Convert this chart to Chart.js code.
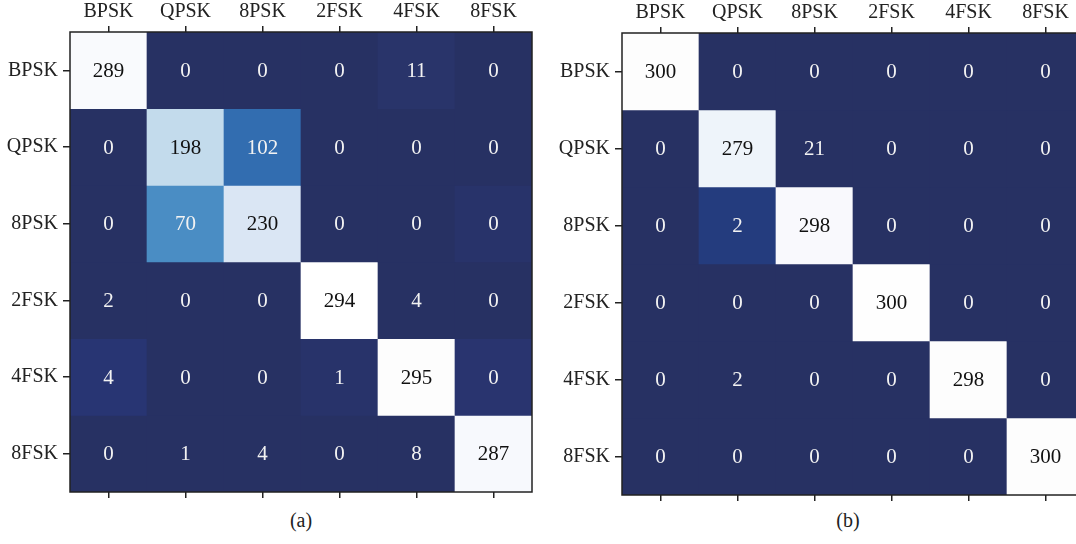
<!DOCTYPE html>
<html>
<head>
<meta charset="utf-8">
<script src="https://cdn.jsdelivr.net/npm/chart.js@4.4.1/dist/chart.umd.min.js"></script>
<style>
  html, body { margin: 0; padding: 0; background: #fff; width: 1076px; height: 544px; overflow: hidden; position: relative; }
  .panel { position: absolute; }
  .caption { position: absolute; font-family: "Liberation Serif", "DejaVu Serif", serif; font-size: 20px; color: #222; transform: translateX(-50%); }
</style>
</head>
<body>
<div class="panel" style="left:0;top:0;width:540px;height:500px;"><canvas id="chartA"></canvas></div>
<div class="panel" style="left:552px;top:1px;width:540px;height:502px;"><canvas id="chartB"></canvas></div>
<div class="caption" style="left:301px;top:509px;">(a)</div>
<div class="caption" style="left:848px;top:509px;">(b)</div>
<script>
// Modulation classes: rows are the true class, columns the predicted class
const classes = ['BPSK', 'QPSK', '8PSK', '2FSK', '4FSK', '8FSK'];

// Confusion counts, panel (a)
const countsA_BPSK = [289, 0, 0, 0, 11, 0];
const countsA_QPSK = [0, 198, 102, 0, 0, 0];
const countsA_8PSK = [0, 70, 230, 0, 0, 0];
const countsA_2FSK = [2, 0, 0, 294, 4, 0];
const countsA_4FSK = [4, 0, 0, 1, 295, 0];
const countsA_8FSK = [0, 1, 4, 0, 8, 287];

// Confusion counts, panel (b)
const countsB_BPSK = [300, 0, 0, 0, 0, 0];
const countsB_QPSK = [0, 279, 21, 0, 0, 0];
const countsB_8PSK = [0, 2, 298, 0, 0, 0];
const countsB_2FSK = [0, 0, 0, 300, 0, 0];
const countsB_4FSK = [0, 2, 0, 0, 298, 0];
const countsB_8FSK = [0, 0, 0, 0, 0, 300];

const matrixA = [countsA_BPSK, countsA_QPSK, countsA_8PSK, countsA_2FSK, countsA_4FSK, countsA_8FSK];
const matrixB = [countsB_BPSK, countsB_QPSK, countsB_8PSK, countsB_2FSK, countsB_4FSK, countsB_8FSK];

// Cell fill colours
const N = '#273163';
const fillA = [
  ['#f9fafd', N, N, N, '#29346a', N],
  [N, '#c3dbec', '#326db0', N, N, N],
  [N, '#4a8dc4', '#dae6f4', N, N, '#28336a'],
  [N, N, N, '#ffffff', N, N],
  ['#283573', N, N, '#28336a', '#fdfdfd', '#29346f'],
  [N, N, N, N, N, '#f7f9fd']
];
const fillB = [
  ['#fdfdfd', N, N, N, N, N],
  [N, '#eef4fa', N, N, N, N],
  [N, '#243c7e', '#f9f9fd', N, N, N],
  [N, N, N, '#fefefe', N, N],
  [N, N, N, N, '#fdfdfd', N],
  [N, N, N, N, N, '#fdfdfd']
];

const FONT = '"Liberation Serif", "DejaVu Serif", serif';
const INK = '#222';

// Writes each count at the centre of its cell
const cellLabels = {
  id: 'cellLabels',
  afterDatasetsDraw(chart) {
    const ctx = chart.ctx;
    const matrix = chart.options.plugins.cellLabels.matrix;
    ctx.save();
    ctx.font = '21px ' + FONT;
    ctx.textAlign = 'center';
    ctx.textBaseline = 'middle';
    chart.data.datasets.forEach((ds, r) => {
      const meta = chart.getDatasetMeta(r);
      meta.data.forEach((bar, c) => {
        const v = matrix[r][c];
        ctx.fillStyle = v > 150 ? '#111' : '#f2f2f2';
        ctx.fillText(String(v), bar.x, (bar.y + bar.base) / 2 + 1);
      });
    });
    ctx.restore();
  }
};

// Frame around the plotting area
const frame = {
  id: 'frame',
  afterDraw(chart) {
    const a = chart.chartArea;
    const ctx = chart.ctx;
    ctx.save();
    ctx.strokeStyle = INK;
    ctx.lineWidth = 1.5;
    ctx.strokeRect(a.left, a.top, a.right - a.left, a.bottom - a.top);
    ctx.restore();
  }
};

function buildChart(id, matrix, fills) {
  const datasets = matrix.map((row, r) => ({
    label: classes[r],
    data: row.map(() => [r, r + 1]),
    backgroundColor: fills[r],
    borderWidth: 0,
    barPercentage: 1,
    categoryPercentage: 1,
    grouped: false
  }));
  const tickGrid = { drawOnChartArea: false, drawTicks: true, tickLength: 6, color: INK, lineWidth: 1.5 };
  return new Chart(document.getElementById(id), {
    type: 'bar',
    data: { labels: classes, datasets },
    options: {
      responsive: true,
      maintainAspectRatio: false,
      animation: false,
      layout: { padding: { top: 0, right: 8, bottom: 0, left: 0 } },
      plugins: {
        legend: { display: false },
        tooltip: { enabled: false },
        cellLabels: { matrix }
      },
      scales: {
        x: {
          type: 'category',
          position: 'top',
          offset: true,
          grid: Object.assign({ offset: false }, tickGrid),
          border: { display: false },
          ticks: { color: INK, font: { family: FONT, size: 20 }, padding: 2, maxRotation: 0 },
          afterFit(s) { s.height = 32; s.paddingLeft = 0; s.paddingRight = 0; }
        },
        x2: {
          type: 'category',
          position: 'bottom',
          offset: true,
          grid: Object.assign({ offset: false }, tickGrid),
          border: { display: false },
          ticks: { display: false },
          afterFit(s) { s.height = 8; s.paddingLeft = 0; s.paddingRight = 0; }
        },
        y: {
          type: 'linear',
          reverse: true,
          min: 0,
          max: classes.length,
          grid: Object.assign({}, tickGrid, { tickLength: 7 }),
          border: { display: false },
          afterBuildTicks(s) { s.ticks = classes.map((_, i) => ({ value: i + 0.5 })); },
          ticks: {
            color: INK,
            font: { family: FONT, size: 20 },
            padding: 5,
            callback: (v, i) => classes[i]
          },
          afterFit(s) { s.width = 70; s.paddingTop = 0; s.paddingBottom = 0; }
        }
      }
    },
    plugins: [cellLabels, frame]
  });
}

buildChart('chartA', matrixA, fillA);
buildChart('chartB', matrixB, fillB);
</script>
</body>
</html>
